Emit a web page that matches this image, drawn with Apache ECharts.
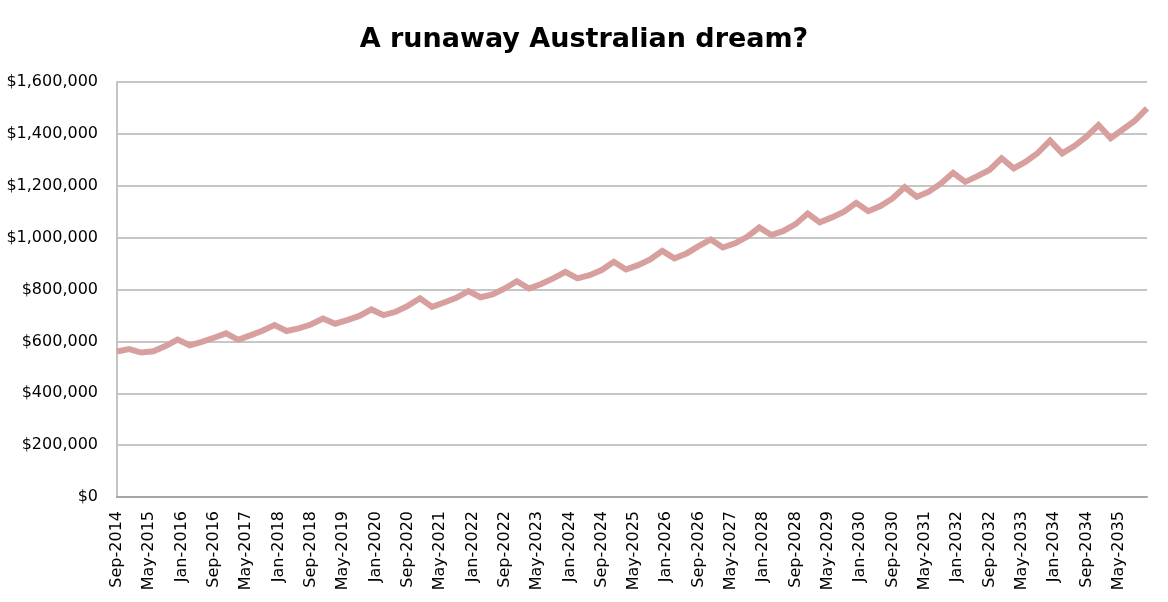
<!DOCTYPE html>
<html>
<head>
<meta charset="utf-8">
<script src="https://cdn.jsdelivr.net/npm/echarts@6/dist/echarts.min.js"></script>
<style>
html,body{margin:0;padding:0;background:#fff;}
#chart{width:1168px;height:602px;}
</style>
</head>
<body>
<div id="chart"></div>
<script>
// Axis: monthly categories from Sep-2014 to Dec-2035, labelled every 8 months
const monthNames = ['Jan','Feb','Mar','Apr','May','Jun','Jul','Aug','Sep','Oct','Nov','Dec'];
const startYear = 2014, startMonthIdx = 8, monthCount = 256;
const yTicks = [0, 200000, 400000, 600000, 800000, 1000000, 1200000, 1400000, 1600000];

// Quarterly median house price (thousand $): Sep-2014, Dec-2014, then Mar/Jun/Sep/Dec each year to Dec-2035
const quarterlyPriceK = [
  561, 570,
  557, 562, 582, 607,
  585, 598, 614, 631,
  606, 623, 641, 663,
  640, 650, 665, 688,
  668, 682, 698, 723,
  701, 714, 737, 766,
  733, 750, 768, 794,
  770, 781, 804, 832,
  804, 821, 843, 868,
  843, 855, 875, 907,
  877, 894, 916, 949,
  920, 939, 967, 993,
  962, 978, 1003, 1039,
  1010, 1026, 1052, 1093,
  1059, 1078, 1100, 1134,
  1102, 1122, 1151, 1194,
  1157, 1177, 1209, 1250,
  1215, 1237, 1261, 1306,
  1267, 1293, 1327, 1374,
  1325, 1353, 1389, 1434,
  1383, 1417, 1451, 1498
];

const months = [];
for (let i = 0; i < monthCount; i++) {
  const m = (startMonthIdx + i) % 12;
  const y = startYear + Math.floor((startMonthIdx + i) / 12);
  months.push(monthNames[m] + '-' + y);
}
const seriesData = quarterlyPriceK.map((v, q) => [months[q * 3], v * 1000]);

const chart = echarts.init(document.getElementById('chart'));
chart.setOption({
  animation: false,
  backgroundColor: '#ffffff',
  title: {
    text: 'A runaway Australian dream?',
    left: 'center',
    top: 21,
    textStyle: { fontFamily: 'DejaVu Sans', fontWeight: 'bold', fontSize: 27, color: '#000' }
  },
  grid: { left: 117, right: 21, top: 82, bottom: 105, containLabel: false },
  xAxis: {
    type: 'category',
    data: months,
    boundaryGap: false,
    axisLine: { show: true, lineStyle: { color: '#a6a6a6', width: 2 } },
    axisTick: { show: false },
    splitLine: { show: false },
    axisLabel: {
      interval: 7,
      rotate: 90,
      margin: 14,
      fontFamily: 'DejaVu Sans',
      fontSize: 16,
      color: '#000'
    }
  },
  yAxis: {
    type: 'value',
    min: yTicks[0],
    max: yTicks[yTicks.length - 1],
    interval: yTicks[1] - yTicks[0],
    axisLine: { show: true, lineStyle: { color: '#c4c4c4', width: 2 } },
    axisTick: { show: false },
    splitLine: { show: true, lineStyle: { color: '#c6c6c6', width: 2 } },
    axisLabel: {
      margin: 19,
      fontFamily: 'DejaVu Sans',
      fontSize: 16,
      color: '#000',
      formatter: v => '$' + v.toLocaleString('en-US')
    }
  },
  series: [{
    type: 'line',
    data: seriesData,
    showSymbol: false,
    symbol: 'none',
    lineStyle: { color: '#d7a09e', width: 6, join: 'miter' },
    z: 3
  }]
});
</script>
</body>
</html>
